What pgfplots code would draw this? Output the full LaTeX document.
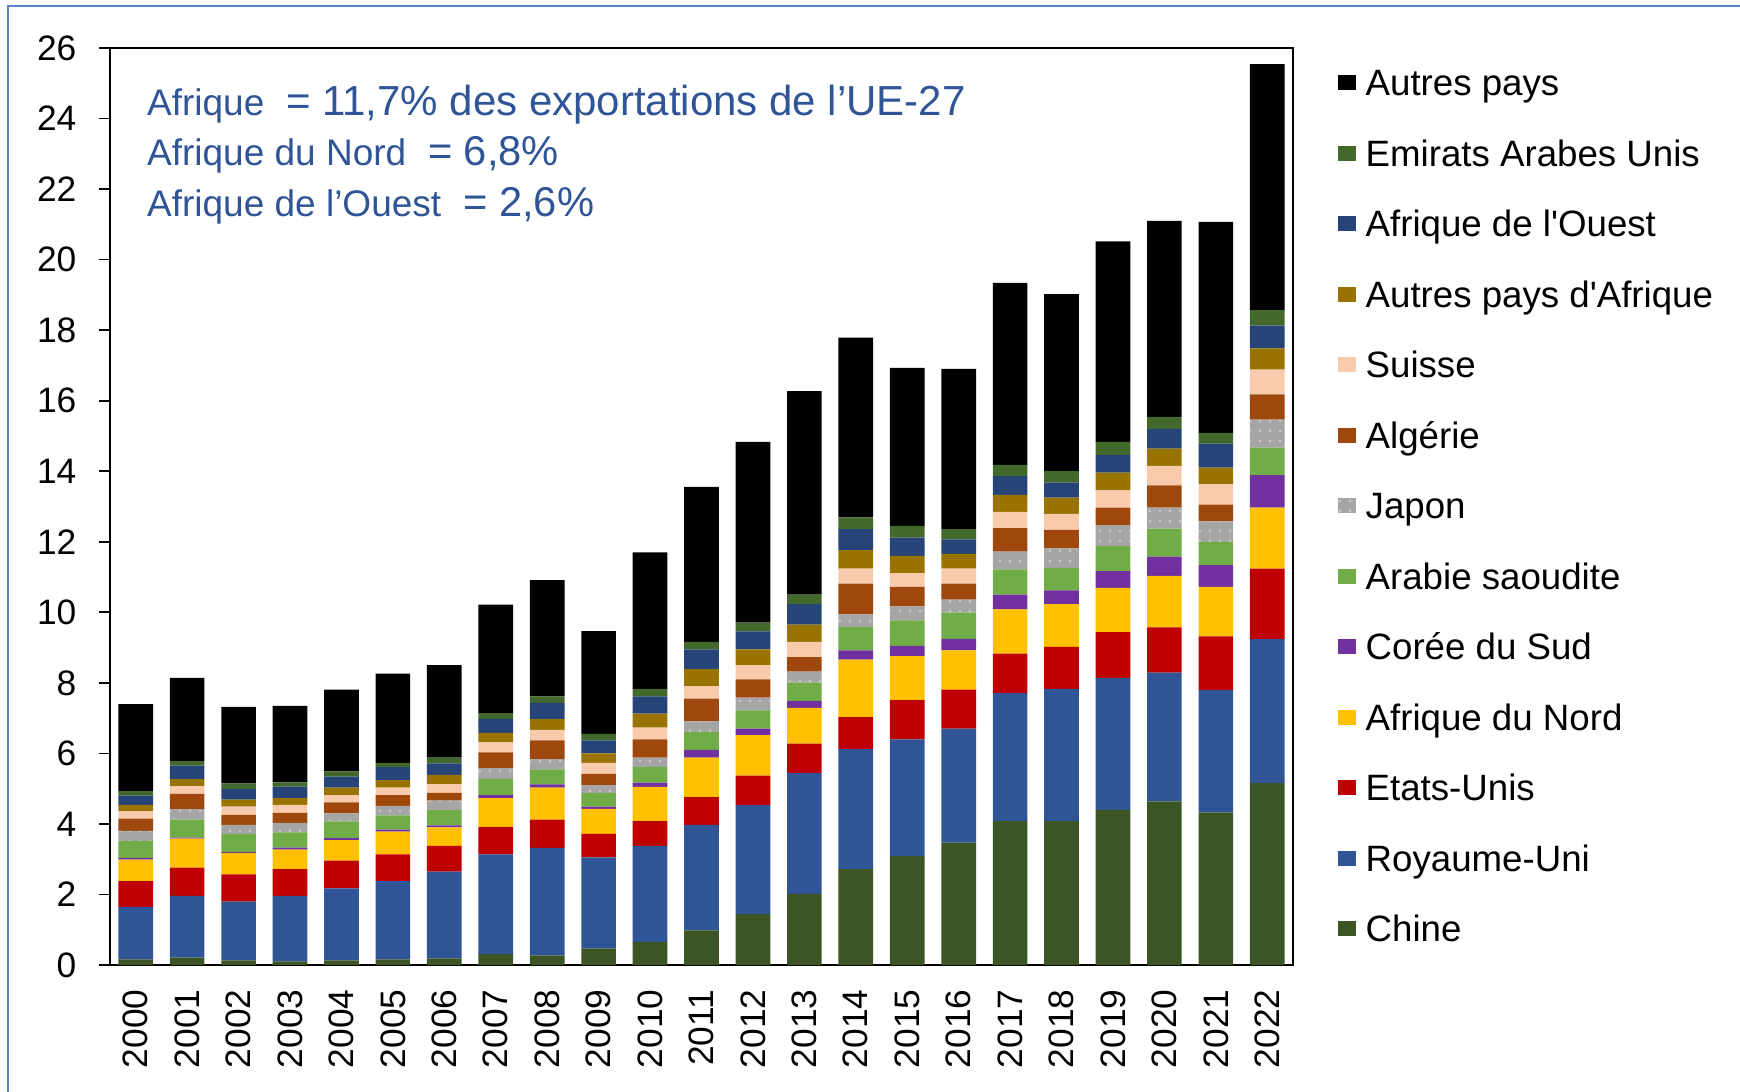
\documentclass[border=0pt]{standalone}
\usepackage{fontspec}
\setmainfont{Liberation Sans}[Ligatures=TeXOff]
\usepackage{pgfplots}
\usepackage{pgfplotstable}
\usetikzlibrary{patterns}
\pgfplotsset{compat=1.18}
\definecolor{cChine}{HTML}{3B5524}
\definecolor{cRU}{HTML}{2F5597}
\definecolor{cUS}{HTML}{C00000}
\definecolor{cAfN}{HTML}{FFC000}
\definecolor{cCoree}{HTML}{7030A0}
\definecolor{cArabie}{HTML}{70AD47}
\definecolor{cJapon}{HTML}{A5A5A5}
\definecolor{cAlgerie}{HTML}{9E480E}
\definecolor{cSuisse}{HTML}{F8CBAD}
\definecolor{cAutAfr}{HTML}{997300}
\definecolor{cAfO}{HTML}{264478}
\definecolor{cEAU}{HTML}{43682B}
\definecolor{cAutres}{HTML}{000000}
\definecolor{annoblue}{HTML}{2F5597}
\definecolor{frameblue}{HTML}{5B87C0}

\pgfplotstableread{
year Chine RU US AfN Coree Arabie Japon Algerie Suisse AutAfr AfO EAU Autres
2000 0.16 1.49 0.73 0.61 0.05 0.48 0.28 0.35 0.21 0.18 0.26 0.13 2.47
2001 0.21 1.75 0.80 0.82 0.03 0.51 0.30 0.43 0.22 0.20 0.38 0.13 2.36
2002 0.13 1.67 0.77 0.60 0.03 0.52 0.25 0.29 0.23 0.20 0.30 0.16 2.17
2003 0.10 1.86 0.76 0.55 0.06 0.43 0.27 0.28 0.23 0.19 0.33 0.12 2.17
2004 0.13 2.04 0.79 0.58 0.06 0.47 0.23 0.31 0.21 0.21 0.31 0.15 2.32
2005 0.16 2.22 0.76 0.64 0.06 0.40 0.27 0.31 0.21 0.21 0.37 0.12 2.53
2006 0.19 2.46 0.73 0.52 0.06 0.43 0.27 0.22 0.25 0.26 0.33 0.16 2.62
2007 0.31 2.83 0.77 0.82 0.09 0.46 0.30 0.45 0.28 0.27 0.40 0.15 3.09
2008 0.27 3.05 0.80 0.91 0.09 0.43 0.29 0.53 0.30 0.30 0.46 0.19 3.29
2009 0.47 2.58 0.67 0.71 0.06 0.39 0.22 0.32 0.31 0.27 0.37 0.18 2.92
2010 0.65 2.73 0.70 0.97 0.12 0.44 0.27 0.52 0.33 0.40 0.49 0.21 3.87
2011 0.98 2.99 0.79 1.12 0.22 0.51 0.30 0.64 0.36 0.48 0.56 0.21 4.40
2012 1.44 3.09 0.84 1.15 0.18 0.52 0.36 0.52 0.40 0.45 0.51 0.25 5.12
2013 2.02 3.43 0.83 1.01 0.20 0.52 0.31 0.41 0.43 0.49 0.58 0.27 5.77
2014 2.72 3.40 0.91 1.63 0.26 0.66 0.36 0.87 0.43 0.52 0.60 0.33 5.10
2015 3.09 3.31 1.11 1.25 0.29 0.72 0.40 0.55 0.39 0.49 0.52 0.33 4.48
2016 3.47 3.23 1.11 1.11 0.33 0.74 0.37 0.45 0.43 0.42 0.41 0.29 4.54
2017 4.08 3.63 1.12 1.25 0.42 0.72 0.50 0.67 0.46 0.48 0.53 0.32 5.16
2018 4.08 3.75 1.19 1.21 0.39 0.64 0.55 0.53 0.45 0.46 0.43 0.33 5.01
2019 4.40 3.74 1.30 1.25 0.48 0.71 0.59 0.50 0.49 0.50 0.50 0.37 5.69
2020 4.64 3.65 1.28 1.46 0.55 0.79 0.60 0.63 0.55 0.49 0.56 0.34 5.56
2021 4.33 3.47 1.52 1.40 0.62 0.66 0.58 0.47 0.58 0.47 0.68 0.31 5.98
2022 5.16 4.08 2.00 1.73 0.92 0.78 0.79 0.72 0.70 0.60 0.65 0.44 6.97
}\datatable

\begin{document}
\begin{tikzpicture}
\path[use as bounding box] (-33pt,-37.8pt) rectangle (489pt,289.5pt);
\draw[color=frameblue, line width=0.7pt] (-30.6pt,-40pt) -- (-30.6pt,287.7pt) -- (495pt,287.7pt);
\begin{axis}[
  at={(0pt,0pt)}, anchor=south west,
  width=354.9pt, height=275.1pt, scale only axis,
  ybar stacked, bar width=10.4pt,
  xmin=1999.5, xmax=2022.5, ymin=0, ymax=26,
  xtick=data, ytick={0,2,...,26},
  /pgf/number format/assume math mode=true,
  xticklabel style={/pgf/number format/1000 sep={}, rotate=90, anchor=east, inner sep=0pt, font=\fontsize{10.6}{12}\selectfont},
  yticklabel style={inner sep=0pt, font=\fontsize{10.6}{12}\selectfont},
  xticklabel shift=3.9pt,
  yticklabel shift=6.6pt,
  x tick style={draw=none},
  ytick pos=left, tick align=outside,
  major tick length=3.3pt,
  y tick style={black, line width=0.5pt},
  axis line style={line width=0.5pt},
  reverse legend,
  legend cell align=left,
  legend image code/.code={\fill[#1] (0pt,-2.25pt) rectangle (5.4pt,2.25pt);},
  legend style={at={(1.0372,0.9773)}, anchor=north west, draw=none, fill=none,
    inner sep=0pt, row sep=13.25pt, column sep=3pt,
    font=\fontsize{11}{13}\selectfont,
    nodes={inner sep=0pt, text height=7.9pt, text depth=0pt}},
]
\addplot[fill=cChine, draw=none] table[x=year,y=Chine] {\datatable};
\addlegendentry{Chine}
\addplot[fill=cRU, draw=none] table[x=year,y=RU] {\datatable};
\addlegendentry{Royaume-Uni}
\addplot[fill=cUS, draw=none] table[x=year,y=US] {\datatable};
\addlegendentry{Etats-Unis}
\addplot[fill=cAfN, draw=none] table[x=year,y=AfN] {\datatable};
\addlegendentry{Afrique du Nord}
\addplot[fill=cCoree, draw=none] table[x=year,y=Coree] {\datatable};
\addlegendentry{Corée du Sud}
\addplot[fill=cArabie, draw=none] table[x=year,y=Arabie] {\datatable};
\addlegendentry{Arabie saoudite}
\addplot[fill=cJapon, draw=none, postaction={pattern=dots, pattern color=cJapon!65!white}] table[x=year,y=Japon] {\datatable};
\addlegendentry{Japon}
\addplot[fill=cAlgerie, draw=none] table[x=year,y=Algerie] {\datatable};
\addlegendentry{Algérie}
\addplot[fill=cSuisse, draw=none] table[x=year,y=Suisse] {\datatable};
\addlegendentry{Suisse}
\addplot[fill=cAutAfr, draw=none] table[x=year,y=AutAfr] {\datatable};
\addlegendentry{Autres pays d'Afrique}
\addplot[fill=cAfO, draw=none] table[x=year,y=AfO] {\datatable};
\addlegendentry{Afrique de l'Ouest}
\addplot[fill=cEAU, draw=none] table[x=year,y=EAU] {\datatable};
\addlegendentry{Emirats Arabes Unis}
\addplot[fill=cAutres, draw=none] table[x=year,y=Autres] {\datatable};
\addlegendentry{Autres pays}
\draw[line width=0.9pt] (rel axis cs:0,0) -- (rel axis cs:1,0);
\end{axis}
\begin{scope}[text=annoblue]
\node[anchor=base west, inner sep=0pt, font=\fontsize{11.1}{13}\selectfont] at (10.95pt,254.8pt) {Afrique};
\node[anchor=base west, inner sep=0pt, font=\fontsize{12.6}{14}\selectfont] at (52.6pt,254.8pt) {= 11,7\% des exportations de l’UE-27};
\node[anchor=base west, inner sep=0pt, font=\fontsize{11.1}{13}\selectfont] at (10.95pt,239.8pt) {Afrique du Nord};
\node[anchor=base west, inner sep=0pt, font=\fontsize{12.5}{14}\selectfont] at (95.2pt,239.8pt) {= 6,8\%};
\node[anchor=base west, inner sep=0pt, font=\fontsize{11.1}{13}\selectfont] at (10.95pt,224.5pt) {Afrique de l’Ouest};
\node[anchor=base west, inner sep=0pt, font=\fontsize{12.5}{14}\selectfont] at (105.8pt,224.5pt) {= 2,6\%};
\end{scope}
\end{tikzpicture}
\end{document}
